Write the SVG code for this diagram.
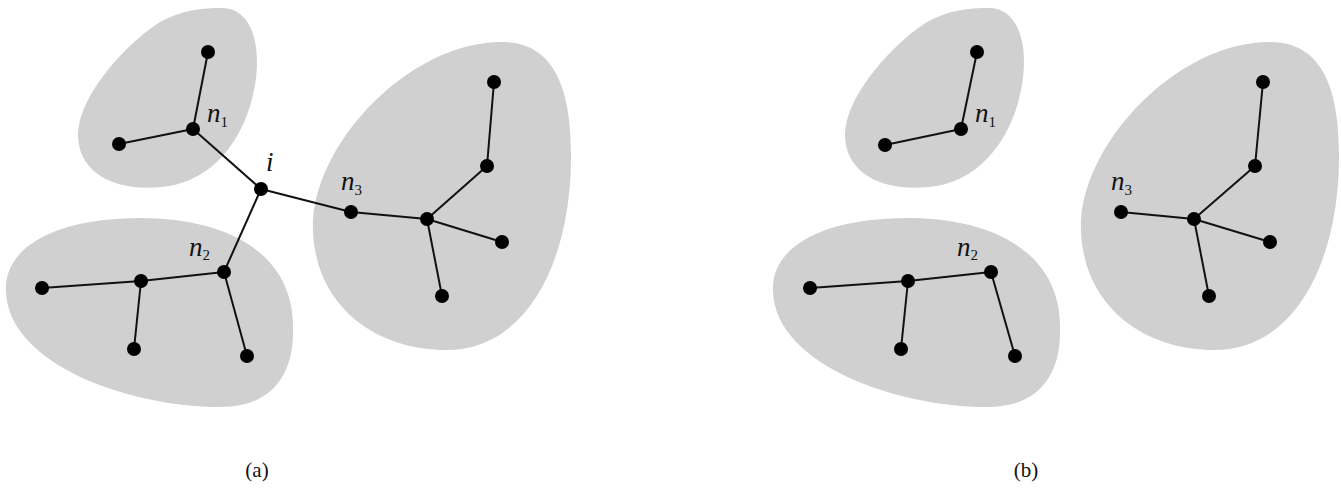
<svg xmlns="http://www.w3.org/2000/svg" width="1341" height="491" viewBox="0 0 1341 491">
<defs>
<style>
.blob{fill:#d0d0d0;stroke:none}
.edge{stroke:#111;stroke-width:2;fill:none}
.node{fill:#000}
.lbl{font-family:"Liberation Serif",serif;font-style:italic;font-size:27px;fill:#111}
.sub{font-size:15px;font-style:normal}
.cap{font-family:"Liberation Serif",serif;font-size:21px;fill:#111}
</style>
<path id="b1" d="M222,8 C250,8 262,42 255,85 C247,132 218,181 162,187 C110,192 78,170 78,135 C78,95 128,42 160,22 C182,10 202,8 222,8 Z"/>
<path id="b2" d="M6,292 C3,245 60,218 140,218 C230,218 292,255 293,325 C295,380 268,407 220,407 C130,407 9,365 6,292 Z"/>
<path id="b3" d="M313,220 C318,140 410,42 502,42 C555,42 572,90 571,160 C570,265 525,350 447,350 C370,350 310,300 313,220 Z"/>
</defs>

<!-- (a) -->
<g id="clusters-a">
<use href="#b1" class="blob"/>
<use href="#b2" class="blob"/>
<use href="#b3" class="blob"/>
</g>
<g id="connectors-a" class="edge">
<line x1="208" y1="52" x2="193" y2="129"/>
<line x1="119" y1="144" x2="193" y2="129"/>
<line x1="193" y1="129" x2="261" y2="189"/>
<line x1="261" y1="189" x2="224" y2="272"/>
<line x1="261" y1="189" x2="351" y2="212"/>
<line x1="351" y1="212" x2="427" y2="219"/>
<line x1="427" y1="219" x2="487" y2="166"/>
<line x1="487" y1="166" x2="494" y2="82"/>
<line x1="427" y1="219" x2="502" y2="242"/>
<line x1="427" y1="219" x2="442" y2="296"/>
<line x1="42" y1="288" x2="141" y2="281"/>
<line x1="141" y1="281" x2="224" y2="272"/>
<line x1="141" y1="281" x2="134" y2="349"/>
<line x1="224" y1="272" x2="247" y2="356"/>
</g>
<g id="nodes-a" class="node">
<circle id="a-n1top" cx="208" cy="52" r="7"/>
<circle id="a-n1" cx="193" cy="129" r="7"/>
<circle id="a-n1left" cx="119" cy="144" r="7"/>
<circle id="a-i" cx="261" cy="189" r="7"/>
<circle id="a-n3" cx="351" cy="212" r="7"/>
<circle id="a-c3" cx="427" cy="219" r="7"/>
<circle id="a-c3up" cx="487" cy="166" r="7"/>
<circle id="a-c3top" cx="494" cy="82" r="7"/>
<circle id="a-c3right" cx="502" cy="242" r="7"/>
<circle id="a-c3bot" cx="442" cy="296" r="7"/>
<circle id="a-n2" cx="224" cy="272" r="7"/>
<circle id="a-c2" cx="141" cy="281" r="7"/>
<circle id="a-c2left" cx="42" cy="288" r="7"/>
<circle id="a-c2bot" cx="134" cy="349" r="7"/>
<circle id="a-n2bot" cx="247" cy="356" r="7"/>
</g>
<g id="labels-a">
<text class="lbl" x="207" y="122">n<tspan class="sub" dy="5">1</tspan></text>
<text class="lbl" x="266" y="171">i</text>
<text class="lbl" x="341" y="190">n<tspan class="sub" dy="5">3</tspan></text>
<text class="lbl" x="189" y="256">n<tspan class="sub" dy="4">2</tspan></text>
<text class="cap" x="257" y="477" text-anchor="middle">(a)</text>
</g>

<!-- (b) -->
<g id="clusters-b">
<use href="#b1" class="blob" x="767"/>
<use href="#b2" class="blob" x="767"/>
<use href="#b3" class="blob" x="768"/>
</g>
<g id="connectors-b" class="edge">
<line x1="977" y1="52" x2="961" y2="129"/>
<line x1="885" y1="145" x2="961" y2="129"/>
<line x1="1121" y1="212" x2="1194" y2="219"/>
<line x1="1194" y1="219" x2="1255" y2="166"/>
<line x1="1255" y1="166" x2="1263" y2="82"/>
<line x1="1194" y1="219" x2="1270" y2="242"/>
<line x1="1194" y1="219" x2="1209" y2="296"/>
<line x1="810" y1="288" x2="908" y2="281"/>
<line x1="908" y1="281" x2="991" y2="272"/>
<line x1="908" y1="281" x2="901" y2="349"/>
<line x1="991" y1="272" x2="1015" y2="356"/>
</g>
<g id="nodes-b" class="node">
<circle id="b-n1top" cx="977" cy="52" r="7"/>
<circle id="b-n1" cx="961" cy="129" r="7"/>
<circle id="b-n1left" cx="885" cy="145" r="7"/>
<circle id="b-n3" cx="1121" cy="212" r="7"/>
<circle id="b-c3" cx="1194" cy="219" r="7"/>
<circle id="b-c3up" cx="1255" cy="166" r="7"/>
<circle id="b-c3top" cx="1263" cy="82" r="7"/>
<circle id="b-c3right" cx="1270" cy="242" r="7"/>
<circle id="b-c3bot" cx="1209" cy="296" r="7"/>
<circle id="b-n2" cx="991" cy="272" r="7"/>
<circle id="b-c2" cx="908" cy="281" r="7"/>
<circle id="b-c2left" cx="810" cy="288" r="7"/>
<circle id="b-c2bot" cx="901" cy="349" r="7"/>
<circle id="b-n2bot" cx="1015" cy="356" r="7"/>
</g>
<g id="labels-b">
<text class="lbl" x="975" y="122">n<tspan class="sub" dy="5">1</tspan></text>
<text class="lbl" x="1111" y="190">n<tspan class="sub" dy="5">3</tspan></text>
<text class="lbl" x="957" y="256">n<tspan class="sub" dy="4">2</tspan></text>
<text class="cap" x="1026" y="477" text-anchor="middle">(b)</text>
</g>
</svg>
